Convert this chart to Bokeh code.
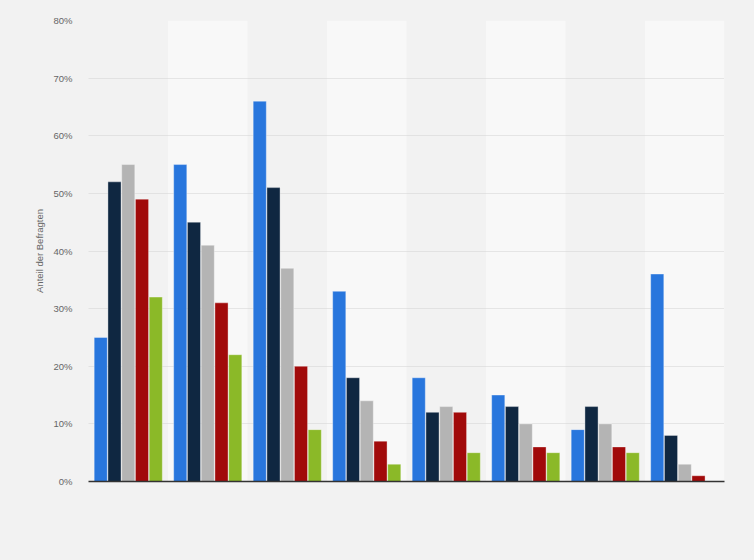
import numpy as np
from bokeh.plotting import figure
from bokeh.models import Range1d, FixedTicker, PrintfTickFormatter, ColumnDataSource
from bokeh.embed import file_html
from bokeh.resources import INLINE

groups = ["1", "2", "3", "4", "5", "6", "7", "8"]
series_names = ["Serie 1", "Serie 2", "Serie 3", "Serie 4", "Serie 5"]
s1 = [25, 55, 66, 33, 18, 15, 9, 36]
s2 = [52, 45, 51, 18, 12, 13, 13, 8]
s3 = [55, 41, 37, 14, 13, 10, 10, 3]
s4 = [49, 31, 20, 7, 12, 6, 6, 1]
s5 = [32, 22, 9, 3, 5, 5, 5, 0]
y_ticks = [0, 10, 20, 30, 40, 50, 60, 70, 80]

colors = ["#2876dd", "#0f2741", "#b4b4b4", "#a10a0a", "#8bb928"]
series = [s1, s2, s3, s4, s5]

BG = "#f2f2f2"
BAND = "#f8f8f8"

p = figure(width=754, height=560, output_backend="svg", toolbar_location=None,
           x_range=Range1d(-0.5, len(groups) - 0.5), y_range=Range1d(0, 80),
           min_border_left=88, min_border_right=30, min_border_top=20, min_border_bottom=79)
p.background_fill_color = BG
p.border_fill_color = BG
p.outline_line_color = None

# alternating bands
xs = np.arange(len(groups))
band_x = [x for x in xs if x % 2 == 1]
p.vbar(x=band_x, top=80, bottom=0, width=1.0, fill_color=BAND, line_color=None, level="underlay")

offsets = np.array([-2, -1, 0, 1, 2]) * 0.173
for vals, col, off in zip(series, colors, offsets):
    src = ColumnDataSource(dict(x=xs + off, top=vals))
    p.vbar(x="x", top="top", bottom=0, width=0.165, source=src, fill_color=col,
           line_color="white", line_alpha=0.35, line_width=1)

p.xgrid.visible = False
p.ygrid.ticker = FixedTicker(ticks=y_ticks)
p.ygrid.grid_line_color = "#d2d2d2"
p.ygrid.grid_line_dash = "1 1"
p.ygrid.grid_line_width = 1

ya = p.yaxis[0]
ya.ticker = FixedTicker(ticks=y_ticks)
ya.formatter = PrintfTickFormatter(format="%d%%")
ya.axis_line_color = None
ya.major_tick_line_color = None
ya.minor_tick_line_color = None
ya.major_tick_out = 0
ya.major_label_standoff = 16
ya.major_label_text_font = "Liberation Sans"
ya.major_label_text_font_size = "9.5px"
ya.major_label_text_color = "#666666"
ya.axis_label = "Anteil der Befragten"
ya.axis_label_text_font = "Liberation Sans"
ya.axis_label_text_font_size = "9.5px"
ya.axis_label_text_font_style = "normal"
ya.axis_label_text_color = "#666666"
ya.axis_label_standoff = 5

xa = p.xaxis[0]
xa.ticker = FixedTicker(ticks=[])
xa.major_label_text_font_size = "0px"
xa.major_tick_line_color = None
xa.minor_tick_line_color = None
xa.axis_line_color = "#333333"
xa.axis_line_width = 1.5

html = file_html(p, INLINE)
style = '<style>html,body{margin:0;padding:0;overflow:hidden;background:%s}</style>' % BG
html = html.replace("</head>", style + "</head>", 1)
open("out.html", "w").write(html)
